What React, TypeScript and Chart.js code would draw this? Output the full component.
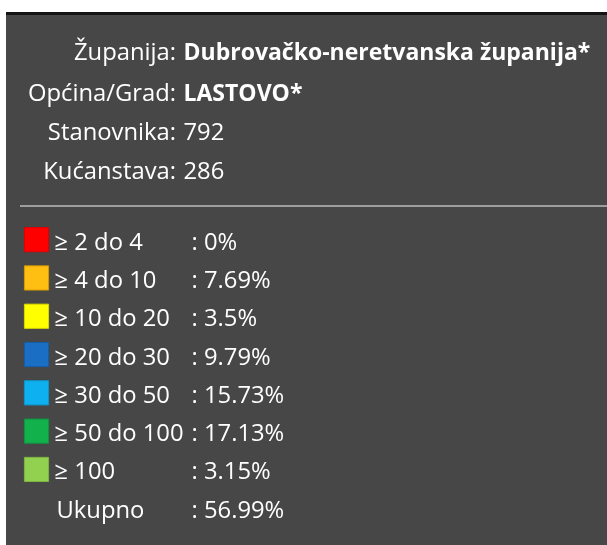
import React, { useEffect, useRef } from "react";
import { Chart, registerables } from "chart.js";

Chart.register(...registerables);

const headerLabels = ["Županija", "Općina/Grad", "Stanovnika", "Kućanstava"];
const headerValues = ["Dubrovačko-neretvanska županija*", "LASTOVO*", "792", "286"];
const headerBold = [true, true, false, false];

const categories = ["≥ 2 do 4", "≥ 4 do 10", "≥ 10 do 20", "≥ 20 do 30", "≥ 30 do 50", "≥ 50 do 100", "≥ 100", "Ukupno"];
const values = [0, 7.69, 3.5, 9.79, 15.73, 17.13, 3.15, 56.99];
const colors = ["#ff0000", "#ffbf12", "#ffff00", "#1a6fc4", "#0fb0ef", "#12b14c", "#92d050", "rgba(0,0,0,0)"];
const borders = ["#e00000", "#d89a00", "#d8d800", "#155ea8", "#0c96cc", "#0e9640", "#7cb642", "rgba(0,0,0,0)"];

const FONT = "'Open Sans', 'Noto Sans', sans-serif";

export default function App() {
  const ref = useRef<HTMLCanvasElement | null>(null);
  useEffect(() => {
    if (!ref.current) return;
    const panelPlugin = {
      id: "panel",
      beforeDraw(chart: any) {
        const ctx = chart.ctx;
        ctx.save();
        ctx.fillStyle = "#ffffff";
        ctx.fillRect(0, 0, chart.width, chart.height);
        ctx.fillStyle = "#474747";
        ctx.fillRect(6, 12, chart.width - 6, chart.height - 12);
        ctx.fillStyle = "#141414";
        ctx.fillRect(6, 12, chart.width - 6, 3);
        ctx.fillStyle = "#9e9e9e";
        ctx.fillRect(20, 205, chart.width - 20, 2);
        ctx.fillStyle = "#ffffff";
        ctx.textBaseline = "alphabetic";
        const baselines = [60, 100.5, 139.5, 178.5];
        headerLabels.forEach((lab, i) => {
          ctx.font = `400 23.8px ${FONT}`;
          ctx.textAlign = "right";
          ctx.fillText(lab + ":", 176, baselines[i]);
          ctx.font = `${headerBold[i] ? "700 23px" : "400 23.8px"} ${FONT}`;
          ctx.textAlign = "left";
          ctx.fillText(headerValues[i], 183.5, baselines[i]);
        });
        ctx.restore();
      },
      afterDatasetsDraw(chart: any) {
        const ctx = chart.ctx;
        const y = chart.scales.y;
        ctx.save();
        ctx.fillStyle = "#ffffff";
        ctx.font = `400 23.8px ${FONT}`;
        ctx.textAlign = "left";
        ctx.textBaseline = "alphabetic";
        categories.forEach((c, i) => {
          const py = y.getPixelForValue(i) + 10;
          ctx.fillText(c, i === categories.length - 1 ? 56.5 : 54.5, py);
          ctx.fillText(": " + values[i] + "%", 191.5, py);
        });
        ctx.restore();
      },
    };
    const chart = new Chart(ref.current, {
      type: "scatter",
      data: {
        datasets: [
          {
            data: categories.map((c) => ({ x: 0, y: c })) as any,
            pointStyle: "rect",
            pointRadius: 17.1,
            pointHoverRadius: 17.1,
            backgroundColor: colors,
            borderColor: borders,
            borderWidth: 1,
            clip: false,
          } as any,
        ],
      },
      options: {
        animation: false,
        responsive: false,
        events: [],
        layout: { padding: { left: 36.5, right: 20, top: 220.5, bottom: 9.5 } },
        scales: {
          x: { type: "linear", min: 0, max: 1, display: false },
          y: { type: "category", labels: categories, offset: true, display: false },
        },
        plugins: { legend: { display: false }, tooltip: { enabled: false }, title: { display: false } },
      },
      plugins: [panelPlugin],
    });
    return () => chart.destroy();
  }, []);
  return (
    <div style={{ position: "absolute", left: 0, top: 0, width: 607, height: 545 }}>
      <canvas ref={ref} width={607} height={545} style={{ display: "block" }} />
    </div>
  );
}
